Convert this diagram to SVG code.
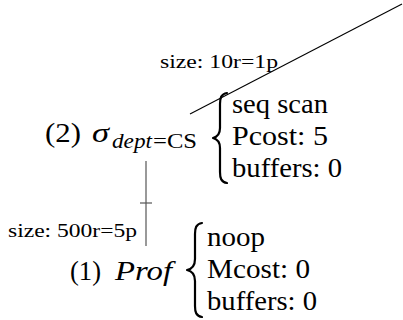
<svg xmlns="http://www.w3.org/2000/svg" width="403" height="320" viewBox="0 0 403 320">
<style>
.t{font-family:'Liberation Serif','DejaVu Serif',serif;font-size:28px;fill:#000}
.i{font-style:italic}
.s{font-family:'Liberation Serif','DejaVu Serif',serif;font-size:19px;fill:#000}
.sub{font-family:'Liberation Serif','DejaVu Serif',serif;font-size:22px;fill:#000}
.brace{fill:none;stroke:#000;stroke-width:2.2;stroke-linecap:round;stroke-linejoin:round}
.edge{fill:none;stroke:#555;stroke-width:1.2}
.edge2{fill:none;stroke:#000;stroke-width:1.1}
</style>
<rect width="403" height="320" fill="#fff"/>
<g id="connectors">
  <line class="edge2" x1="190" y1="114" x2="402" y2="4"/>
  <text class="s" x="160" y="68" textLength="118" lengthAdjust="spacingAndGlyphs">size: 10r=1p</text>
  <line class="edge" x1="146" y1="161" x2="146" y2="246"/>
  <line class="edge" x1="140" y1="203" x2="152" y2="203"/>
  <text class="s" x="8" y="237" textLength="129" lengthAdjust="spacingAndGlyphs">size: 500r=5p</text>
</g>
<g id="node-2">
  <text class="t" x="45" y="142" textLength="36" lengthAdjust="spacingAndGlyphs">(2)</text>
  <text class="t i" x="92" y="142" font-size="29" textLength="17" lengthAdjust="spacingAndGlyphs">σ</text>
  <text class="sub i" x="112" y="148" textLength="40" lengthAdjust="spacingAndGlyphs">dept</text>
  <text class="sub" x="153" y="148" textLength="44" lengthAdjust="spacingAndGlyphs">=CS</text>
  <path class="brace" d="M227,93 C221,94 220,98 220,104 L220,128 C220,134 217,137 213,138 C217,139 220,142 220,148 L220,172 C220,178 221,182 227,183"/>
  <text class="t" x="232" y="113" textLength="96" lengthAdjust="spacingAndGlyphs">seq scan</text>
  <text class="t" x="232" y="145" textLength="96" lengthAdjust="spacingAndGlyphs">Pcost:  5</text>
  <text class="t" x="232" y="177" textLength="110" lengthAdjust="spacingAndGlyphs">buffers:  0</text>
</g>
<g id="node-1">
  <text class="t" x="70" y="280" textLength="31" lengthAdjust="spacingAndGlyphs">(1)</text>
  <text class="t i" x="115" y="280" textLength="57" lengthAdjust="spacingAndGlyphs">Prof</text>
  <path class="brace" d="M202,223 C196,224 195,228 195,234 L195,259 C195,265 192,269 187,270 C192,271 195,275 195,281 L195,306 C195,312 196,316 202,317"/>
  <text class="t" x="207" y="246" textLength="58" lengthAdjust="spacingAndGlyphs">noop</text>
  <text class="t" x="207" y="278" textLength="103" lengthAdjust="spacingAndGlyphs">Mcost:  0</text>
  <text class="t" x="207" y="310" textLength="110" lengthAdjust="spacingAndGlyphs">buffers:  0</text>
</g>
</svg>
